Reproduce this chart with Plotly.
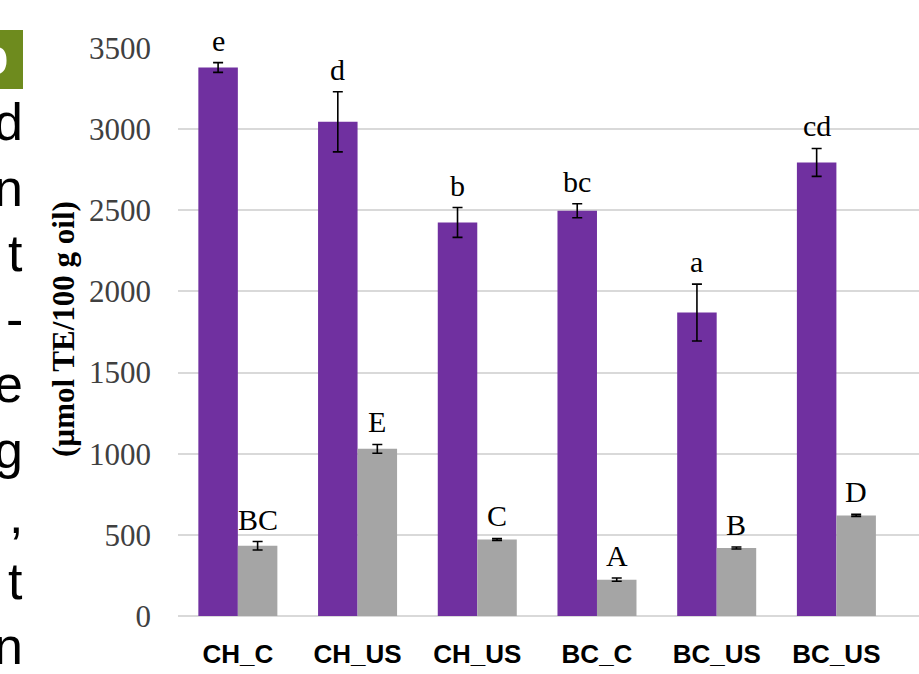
import plotly.graph_objects as go

# Treatments and antioxidant capacity values (µmol TE/100 g oil)
categories = ["CH_C", "CH_US", "CH_US", "BC_C", "BC_US", "BC_US"]
purple_vals = [3380, 3045, 2425, 2497, 1870, 2795]
purple_err = [30, 185, 92, 43, 175, 86]
purple_letters = ["e", "d", "b", "bc", "a", "cd"]
gray_vals = [433, 1030, 472, 224, 419, 620]
gray_err = [26, 27, 6, 10, 6, 6]
gray_letters = ["BC", "E", "C", "A", "B", "D"]
y_ticks = [0, 500, 1000, 1500, 2000, 2500, 3000, 3500]

# Fragments of the surrounding page text at the left edge
side_letters = ["d", "n", "t", "-", "e", "g", ",", "t", "n"]

W, H = 919, 674
SERIF = "Liberation Serif, Times New Roman, serif"
SANS = "Liberation Sans, Arial, sans-serif"

pos = list(range(len(categories)))
bar_w = 0.33

fig = go.Figure()
fig.add_bar(
    x=pos, y=purple_vals, width=bar_w, offset=-bar_w,
    marker=dict(color="#7030A0", line=dict(width=0)),
    error_y=dict(type="data", array=purple_err, color="black", thickness=1.6, width=5),
    hoverinfo="skip", showlegend=False,
)
fig.add_bar(
    x=pos, y=gray_vals, width=bar_w, offset=0,
    marker=dict(color="#A5A5A5", line=dict(width=0)),
    error_y=dict(type="data", array=gray_err, color="black", thickness=1.6, width=5),
    hoverinfo="skip", showlegend=False,
)

annotations = []
# Significance letters above each bar
for i in pos:
    annotations.append(dict(
        x=i - bar_w / 2, y=purple_vals[i] + purple_err[i], xref="x", yref="y",
        text=purple_letters[i], showarrow=False, yanchor="bottom", yshift=4,
        font=dict(family=SERIF, size=30, color="black"),
    ))
    annotations.append(dict(
        x=i + bar_w / 2, y=gray_vals[i] + gray_err[i], xref="x", yref="y",
        text=gray_letters[i], showarrow=False, yanchor="bottom", yshift=4,
        font=dict(family=SERIF, size=30, color="black"),
    ))

# Rotated y-axis title
annotations.append(dict(
    x=63 / W, y=1 - 329 / H, xref="paper", yref="paper",
    text="<b>(µmol TE/100 g oil)</b>", textangle=-90, showarrow=False,
    xanchor="center", yanchor="middle",
    font=dict(family=SERIF, size=31, color="black"),
))

# Page-text fragments on the left
for k, ch in enumerate(side_letters):
    baseline = 141 + 65.5 * k
    annotations.append(dict(
        x=25 / W, y=1 - (baseline + 12) / H, xref="paper", yref="paper",
        text=ch, showarrow=False, xanchor="right", yanchor="bottom",
        font=dict(family=SANS, size=52, color="black"),
    ))
annotations.append(dict(
    x=11 / W, y=1 - 57 / H, xref="paper", yref="paper",
    text="<b>b</b>", showarrow=False, xanchor="right", yanchor="middle",
    font=dict(family=SANS, size=50, color="white"),
))

fig.update_layout(
    width=W, height=H,
    margin=dict(l=0, r=0, t=0, b=0, autoexpand=False),
    paper_bgcolor="white", plot_bgcolor="white",
    barmode="overlay",
    annotations=annotations,
    shapes=[dict(
        type="rect", xref="paper", yref="paper",
        x0=0, x1=23 / W, y0=1 - 89 / H, y1=1 - 30 / H,
        fillcolor="#6E8B1E", line=dict(width=0), layer="below",
    )],
)

fig.update_xaxes(
    domain=[178 / W, 1], range=[-0.5, 5.69], automargin=False,
    tickmode="array", tickvals=pos,
    ticktext=[f"<b>{c}</b>" for c in categories],
    tickfont=dict(family=SANS, size=26, color="black"),
    showgrid=False, zeroline=False, showline=False, ticks="",
    ticklabelstandoff=20,
)
fig.update_yaxes(
    domain=[1 - 616 / H, 1 - 48 / H], range=[0, 3500], automargin=False,
    tickmode="array", tickvals=y_ticks,
    tickfont=dict(family=SERIF, size=31, color="#404040"),
    showgrid=True, gridcolor="#D9D9D9", gridwidth=1.6,
    zeroline=True, zerolinecolor="#D9D9D9", zerolinewidth=1.6,
    showline=False, ticks="", ticklabelstandoff=26,
)

fig.write_html("out.html")
